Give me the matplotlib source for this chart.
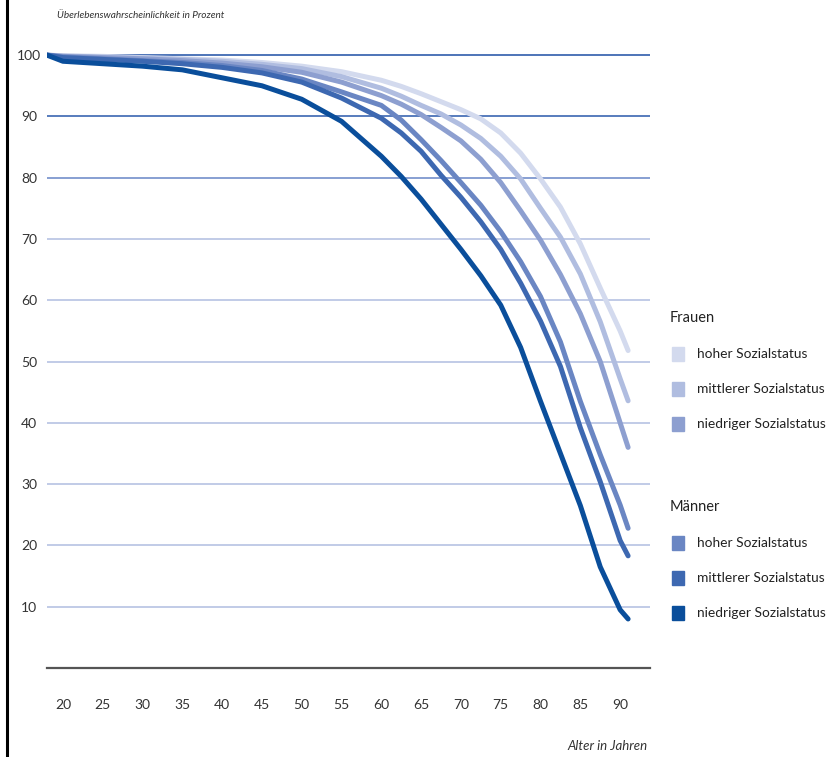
import matplotlib
matplotlib.use("Agg")
import matplotlib.pyplot as plt
from matplotlib.lines import Line2D
from matplotlib.patches import Rectangle

AGES = [18, 20, 25, 30, 35, 40, 45, 50, 55, 60, 62.5, 65, 67.5, 70, 72.5,
        75, 77.5, 80, 82.5, 85, 87.5, 90, 91]

FRAUEN_HOCH = [100, 99.9, 99.8, 99.6, 99.4, 99.2, 98.8, 98.2, 97.3, 95.9, 94.9, 93.7,
               92.4, 91.1, 89.6, 87.3, 84.0, 79.8, 75.2, 69.2, 62.0, 55.0, 51.8]
FRAUEN_MITTEL = [100, 99.85, 99.7, 99.5, 99.3, 99.0, 98.5, 97.8, 96.5, 94.6, 93.3, 91.8,
                 90.4, 88.6, 86.4, 83.5, 79.8, 75.0, 70.3, 64.3, 56.5, 47.2, 43.6]
FRAUEN_NIEDRIG = [100, 99.8, 99.6, 99.4, 99.1, 98.7, 98.1, 97.2, 95.6, 93.4, 92.0, 90.3,
                  88.2, 86.0, 83.0, 79.2, 74.6, 69.8, 64.2, 57.8, 50.0, 40.0, 36.0]
MAENNER_HOCH = [100, 99.7, 99.4, 99.1, 98.8, 98.3, 97.5, 96.1, 94.0, 91.8, 89.4, 86.2,
                82.8, 79.2, 75.5, 71.2, 66.3, 60.6, 53.2, 43.5, 34.8, 26.6, 22.8]
MAENNER_MITTEL = [100, 99.6, 99.3, 99.0, 98.6, 98.0, 97.1, 95.6, 93.0, 89.7, 87.3, 84.3,
                  80.4, 76.8, 72.8, 68.3, 62.8, 56.6, 49.2, 39.2, 30.4, 20.8, 18.3]
MAENNER_NIEDRIG = [100, 99.0, 98.6, 98.2, 97.6, 96.3, 95.0, 92.8, 89.2, 83.5, 80.2, 76.5,
                   72.4, 68.3, 64.0, 59.2, 52.3, 43.5, 35.0, 26.5, 16.5, 9.5, 8.0]

SERIES = [FRAUEN_HOCH, FRAUEN_MITTEL, FRAUEN_NIEDRIG,
          MAENNER_HOCH, MAENNER_MITTEL, MAENNER_NIEDRIG]
COLORS = ["#d3daee", "#b0bde0", "#8d9fd0", "#6a86c3", "#3d68b1", "#0a4e9b"]
STATUS = ["hoher Sozialstatus", "mittlerer Sozialstatus", "niedriger Sozialstatus"]
GROUPS = ["Frauen", "Männer"]

X_TICKS = [20, 25, 30, 35, 40, 45, 50, 55, 60, 65, 70, 75, 80, 85, 90]
Y_TICKS = [10, 20, 30, 40, 50, 60, 70, 80, 90, 100]
GRID_COLORS = ["#bcc7e5"] * 7 + ["#7e97cf", "#4a72b8", "#3f69b2"]

plt.rcParams["font.family"] = ["Lato", "DejaVu Sans"]

W, H = 832, 757
fig = plt.figure(figsize=(W / 100, H / 100), dpi=100)
ax = fig.add_axes([47 / W, 1 - 668 / H, (650 - 47) / W, (668 - 49) / H])

for val, col in zip(Y_TICKS, GRID_COLORS):
    ax.axhline(val, color=col, linewidth=1.3, zorder=1)

# light lines first so the dark ones sit on top
for vals, col in zip(SERIES, COLORS):
    ax.plot(AGES, vals, color=col, linewidth=3.6, solid_capstyle="round",
            solid_joinstyle="round", zorder=3)

ax.set_xlim(18.0, 93.75)
ax.set_ylim(0, 101)
for side in ["top", "right", "left"]:
    ax.spines[side].set_visible(False)
ax.spines["bottom"].set_color("#555555")
ax.spines["bottom"].set_linewidth(1.6)

ax.set_xticks(X_TICKS)
ax.set_xticklabels([str(t) for t in X_TICKS], fontsize=10, color="#333333")
ax.set_yticks(Y_TICKS)
ax.set_yticklabels([str(t) for t in Y_TICKS], fontsize=10, color="#333333")
ax.tick_params(axis="x", length=0, pad=22)
ax.tick_params(axis="y", length=0, pad=13)
for lab in ax.get_yticklabels():
    lab.set_horizontalalignment("center")

fig.text(57 / W, 1 - 16 / H, "Überlebenswahrscheinlichkeit in Prozent",
         style="italic", fontsize=7.2, color="#333333", ha="left", va="center")
fig.text(648 / W, 1 - 746 / H, "Alter in Jahren", style="italic",
         fontsize=9.5, color="#333333", ha="right", va="center")

# legend built by hand
head_y = [318, 507]
for g, group in enumerate(GROUPS):
    fig.text(670 / W, 1 - head_y[g] / H, group, fontsize=10.5,
             color="#222222", ha="left", va="center")
    for i, status in enumerate(STATUS):
        y = head_y[g] + 36 + 35 * i
        col = COLORS[3 * g + i]
        fig.patches.append(Rectangle((672 / W, 1 - (y + 7) / H), 12 / W, 14 / H,
                                     transform=fig.transFigure, color=col))
        fig.text(697 / W, 1 - y / H, status, fontsize=9.9,
                 color="#222222", ha="left", va="center")

fig.lines.append(Line2D([7 / W, 7 / W], [0, 1], transform=fig.transFigure,
                        color="black", linewidth=2.2))

fig.savefig("out.png", dpi=100)
